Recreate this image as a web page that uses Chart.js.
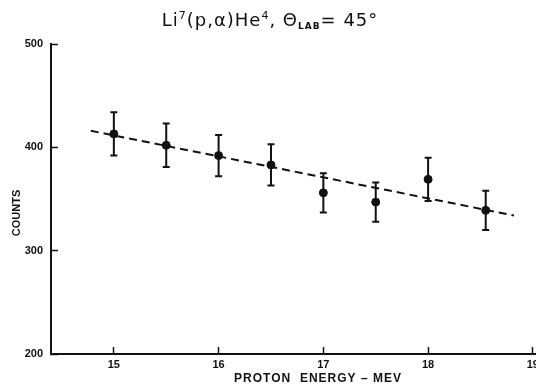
<!DOCTYPE html>
<html>
<head>
<meta charset="utf-8">
<script src="https://cdn.jsdelivr.net/npm/chart.js@4"></script>
<style>
  body { margin: 0; background: #fff; }
</style>
</head>
<body>
<canvas id="chart" width="536" height="386"></canvas>
<script>
// measured points (proton energy in MeV, counts, +/- error)
const energy = [15.0, 15.5, 16.0, 16.5, 17.0, 17.5, 18.0, 18.55];
const counts = [413, 402, 392, 383, 356, 347, 369, 339];
const errors = [21, 21, 20, 20, 19, 19, 21, 19];

// dashed fit line end points
const fitEnergy = [14.78, 18.82];
const fitCounts = [416, 334];

const xTicks = [15, 16, 17, 18, 19];
const yTicks = [200, 300, 400, 500];

const ink = '#111';

// error bars, drawn under the points
const errorBars = {
    id: 'errorBars',
    beforeDatasetsDraw(chart) {
        const ctx = chart.ctx;
        const xs = chart.scales.x, ys = chart.scales.y;
        ctx.save();
        ctx.strokeStyle = ink;
        ctx.lineWidth = 2;
        energy.forEach((e, i) => {
            const px = xs.getPixelForValue(e);
            const top = ys.getPixelForValue(counts[i] + errors[i]);
            const bot = ys.getPixelForValue(counts[i] - errors[i]);
            ctx.beginPath();
            ctx.moveTo(px, top); ctx.lineTo(px, bot);
            ctx.moveTo(px - 3.5, top); ctx.lineTo(px + 3.5, top);
            ctx.moveTo(px - 3.5, bot); ctx.lineTo(px + 3.5, bot);
            ctx.stroke();
        });
        ctx.restore();
    }
};

function drawRuns(ctx, runs, cx, baseY) {
    let total = 0;
    runs.forEach(r => {
        ctx.font = r.font;
        r.w = ctx.measureText(r.text).width + (r.gap || 0);
        total += r.w;
    });
    let x = cx - total / 2;
    runs.forEach(r => {
        ctx.font = r.font;
        ctx.fillText(r.text, x, baseY + (r.dy || 0));
        x += r.w;
    });
}

// title and axis labels
const labels = {
    id: 'labels',
    afterDraw(chart) {
        const ctx = chart.ctx;
        ctx.save();
        ctx.fillStyle = ink;
        ctx.textBaseline = 'alphabetic';
        ctx.textAlign = 'left';
        const big = '18px "DejaVu Sans"';
        const sup = '11px "DejaVu Sans"';
        ctx.letterSpacing = '1px';
        drawRuns(ctx, [
            { text: 'Li', font: big },
            { text: '7', font: sup, dy: -7 },
            { text: '(p,α)He', font: big },
            { text: '4', font: sup, dy: -7 },
            { text: ', Θ', font: big },
            { text: 'LAB', font: 'bold 9px "DejaVu Sans"', dy: 3 },
            { text: '= 45°', font: big }
        ], 270, 26);

        ctx.letterSpacing = '1px';
        ctx.font = 'bold 12px "Liberation Sans"';
        ctx.textAlign = 'center';
        ctx.textBaseline = 'middle';
        ctx.fillText('PROTON  ENERGY – MEV', 318, 379);

        ctx.letterSpacing = '0px';
        ctx.font = 'bold 11px "Liberation Sans"';
        ctx.translate(17, 213);
        ctx.rotate(-Math.PI / 2);
        ctx.fillText('COUNTS', 0, 0);
        ctx.restore();
    }
};

new Chart(document.getElementById('chart'), {
    data: {
        datasets: [
            {
                type: 'line',
                data: fitEnergy.map((e, i) => ({ x: e, y: fitCounts[i] })),
                borderColor: ink,
                borderWidth: 2,
                borderDash: [8, 5],
                pointRadius: 0,
                fill: false
            },
            {
                type: 'scatter',
                data: energy.map((e, i) => ({ x: e, y: counts[i] })),
                backgroundColor: ink,
                borderColor: ink,
                pointRadius: 4
            }
        ]
    },
    options: {
        responsive: false,
        animation: false,
        events: [],
        layout: { autoPadding: false, padding: { top: 44, left: 0, right: 0, bottom: 0 } },
        plugins: {
            legend: { display: false },
            tooltip: { enabled: false }
        },
        scales: {
            x: {
                type: 'linear',
                min: 14.4,
                max: 19.03,
                afterBuildTicks: s => { s.ticks = xTicks.map(v => ({ value: v })); },
                afterFit: s => { s.height = 32; s.paddingLeft = 0; s.paddingRight = 0; },
                border: { color: ink, width: 2 },
                grid: { drawOnChartArea: false, tickLength: -7, tickWidth: 1.5, tickColor: ink },
                ticks: {
                    color: ink,
                    padding: 11,
                    maxRotation: 0,
                    font: { family: 'Liberation Sans', weight: 'bold', size: 11 }
                }
            },
            y: {
                min: 200,
                max: 500,
                afterBuildTicks: s => { s.ticks = yTicks.map(v => ({ value: v })); },
                afterFit: s => { s.width = 51; },
                border: { color: ink, width: 2 },
                grid: { drawOnChartArea: false, tickLength: -7, tickWidth: 1.5, tickColor: ink },
                ticks: {
                    color: ink,
                    padding: 15,
                    font: { family: 'Liberation Sans', weight: 'bold', size: 11 }
                }
            }
        }
    },
    plugins: [errorBars, labels]
});
</script>
</body>
</html>
